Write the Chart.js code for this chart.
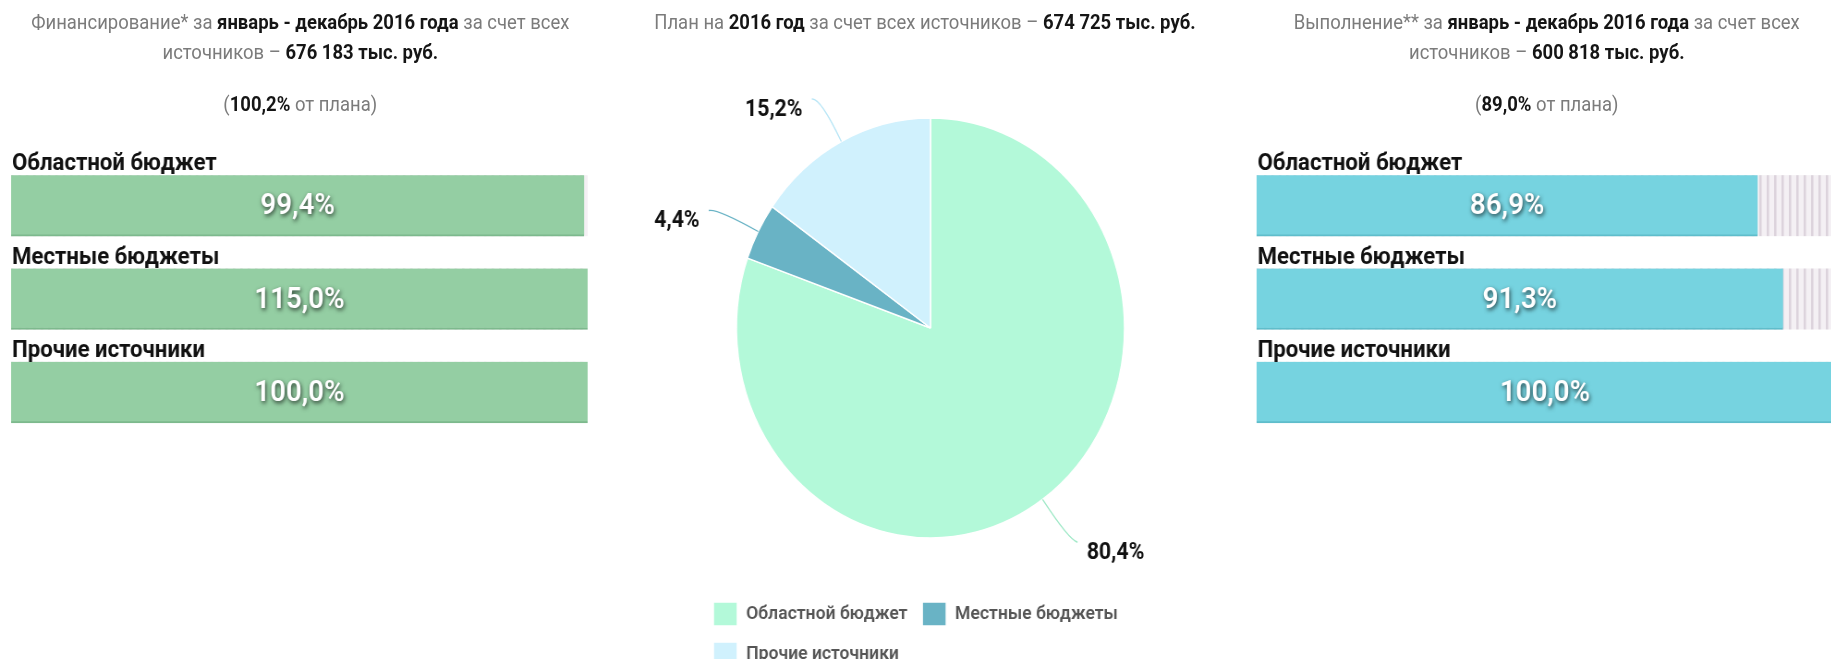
<!DOCTYPE html>
<html lang="ru">
<head>
<meta charset="utf-8">
<title>Финансирование 2016</title>
<script src="https://cdn.jsdelivr.net/npm/chart.js@4.4.1/dist/chart.umd.min.js"></script>
<style>
  html, body { margin:0; padding:0; background:#fff; overflow:hidden; width:1831px; height:659px; }
  /* the source picture is squeezed horizontally, so the whole page is too */
  #page { position:relative; width:1982px; height:659px; transform:scaleX(0.924); transform-origin:0 0;
          font-family:Roboto, "Noto Sans", sans-serif; }
  .ttl { position:absolute; width:650px; text-align:center; font-size:20px; line-height:30px; color:#7b7b7b; }
  .ttl b { color:#151515; font-weight:700; }
  canvas { position:absolute; }
</style>
</head>
<body>
<div id="page">
  <div class="ttl" style="left:0;top:7px">Финансирование* за <b>январь - декабрь 2016 года</b> за счет всех<br>источников – <b>676 183 тыс. руб.</b></div>
  <div class="ttl" style="left:0;top:89px">(<b>100,2%</b> от плана)</div>

  <div class="ttl" style="left:676px;top:7px">План на <b>2016 год</b> за счет всех источников – <b>674 725 тыс. руб.</b></div>

  <div class="ttl" style="left:1349px;top:7px">Выполнение** за <b>январь - декабрь 2016 года</b> за счет всех<br>источников – <b>600 818 тыс. руб.</b></div>
  <div class="ttl" style="left:1349px;top:89px">(<b>89,0%</b> от плана)</div>

  <canvas id="fundChart" width="624" height="320" style="left:12px;top:130px"></canvas>
  <canvas id="planChart" width="714" height="606" style="left:650px;top:70px"></canvas>
  <canvas id="execChart" width="624" height="320" style="left:1360px;top:130px"></canvas>
</div>

<script>
// ---- data ----
const sources = ['Областной бюджет', 'Местные бюджеты', 'Прочие источники'];
const fundingPct = [99.4, 115.0, 100.0];   // финансирование, % от плана
const executionPct = [86.9, 91.3, 100.0];  // выполнение, % от плана
const planShare = [80.4, 4.4, 15.2];       // структура плана, %

Chart.defaults.font.family = 'Roboto, "Noto Sans", sans-serif';

const fmtPct = v => v.toFixed(1).replace('.', ',') + '%';

// grey striped track behind the bars
function stripes(){
  const c = document.createElement('canvas');
  c.width = 8; c.height = 4;
  const g = c.getContext('2d');
  g.fillStyle = '#f4f0f4'; g.fillRect(0,0,8,4);
  g.fillStyle = '#dcd3dc'; g.fillRect(0,0,2,4);
  g.fillStyle = '#e8e1e8'; g.fillRect(2,0,1,4);
  return g.createPattern(c, 'repeat');
}

const barDecor = {
  id: 'barDecor',
  beforeDatasetsDraw(chart){
    const ctx = chart.ctx, area = chart.chartArea, pat = stripes();
    chart.getDatasetMeta(0).data.forEach(bar=>{
      ctx.save();
      ctx.fillStyle = pat;
      ctx.fillRect(area.left, bar.y - bar.height/2, area.right - area.left, bar.height);
      ctx.restore();
    });
  },
  afterDatasetsDraw(chart){
    const ctx = chart.ctx, area = chart.chartArea;
    const raw = chart.data.datasets[0].raw;
    chart.getDatasetMeta(0).data.forEach((bar,i)=>{
      const top = bar.y - bar.height/2;
      ctx.save();
      // category name above the bar
      ctx.font = 'bold 24px Roboto';
      ctx.fillStyle = '#111';
      ctx.textAlign = 'left';
      ctx.textBaseline = 'alphabetic';
      ctx.fillText(chart.data.labels[i], area.left + 1, top - 5);
      // percentage inside the filled part
      ctx.font = '600 30px Roboto';
      ctx.fillStyle = '#fff';
      ctx.textAlign = 'center';
      ctx.textBaseline = 'middle';
      ctx.shadowColor = 'rgba(0,0,0,0.7)';
      ctx.shadowBlur = 4;
      ctx.shadowOffsetX = 1;
      ctx.shadowOffsetY = 2;
      ctx.fillText(fmtPct(raw[i]), (bar.base + bar.x)/2, bar.y + 1);
      ctx.restore();
    });
  }
};

function barChart(id, values, color, edge){
  return new Chart(document.getElementById(id), {
    type: 'bar',
    data: {
      labels: sources,
      datasets: [{
        data: values.map(v => Math.min(v, 100)),
        raw: values,
        backgroundColor: color,
        borderColor: edge,
        borderWidth: {top:0, right:0, bottom:2, left:0},
        borderSkipped: false,
        barThickness: 61
      }]
    },
    options: {
      indexAxis: 'y',
      responsive: false,
      animation: false,
      layout: { padding: { top: 29, bottom: 11 } },
      scales: {
        x: { display:false, min:0, max:100 },
        y: { display:false }
      },
      plugins: { legend:{display:false}, tooltip:{enabled:false} }
    },
    plugins: [barDecor]
  });
}

barChart('fundChart', fundingPct, '#94cea3', '#7db98d');
barChart('execChart', executionPct, '#76d3e0', '#5fbdcb');

// pie with callout labels
const pieCallouts = {
  id: 'pieCallouts',
  afterDatasetsDraw(chart){
    const ctx = chart.ctx, ds = chart.data.datasets[0];
    chart.getDatasetMeta(0).data.forEach((arc,i)=>{
      const p = arc.getProps(['x','y','startAngle','endAngle','outerRadius'], true);
      const mid = (p.startAngle + p.endAngle)/2;
      const cos = Math.cos(mid), sin = Math.sin(mid), side = cos >= 0 ? 1 : -1;
      const x0 = p.x + cos*p.outerRadius, y0 = p.y + sin*p.outerRadius;
      const x1 = p.x + cos*(p.outerRadius+50), y1 = p.y + sin*(p.outerRadius+50);
      const x2 = x1 + side*9;
      ctx.save();
      ctx.strokeStyle = ds.lineColor[i];
      ctx.lineWidth = 1.3;
      ctx.beginPath();
      ctx.moveTo(x0, y0);
      ctx.quadraticCurveTo(x1, y1, x2, y1 + 2);
      ctx.stroke();
      ctx.font = 'bold 23px Roboto';
      ctx.fillStyle = '#111';
      ctx.textAlign = side > 0 ? 'left' : 'right';
      ctx.textBaseline = 'middle';
      ctx.fillText(fmtPct(ds.data[i]), x2 + side*10, y1 + 13);
      ctx.restore();
    });
  }
};

new Chart(document.getElementById('planChart'), {
  type: 'pie',
  data: {
    labels: sources,
    datasets: [{
      data: planShare,
      backgroundColor: ['#b3f9d9', '#69b3c5', '#d0f1fd'],
      lineColor: ['#9ee8c6', '#69b3c5', '#b9e6f6'],
      borderColor: '#fff',
      borderWidth: 1.5
    }]
  },
  options: {
    responsive: false,
    animation: false,
    radius: 210,
    layout: { padding: { left: 106, right: 106 } },
    plugins: {
      tooltip: { enabled:false },
      legend: {
        position: 'bottom',
        align: 'start',
        labels: {
          boxWidth: 26,
          boxHeight: 24,
          padding: 16,
          color: '#555',
          font: { size: 19, weight: '600' }
        }
      }
    }
  },
  plugins: [pieCallouts]
});
</script>
</body>
</html>
